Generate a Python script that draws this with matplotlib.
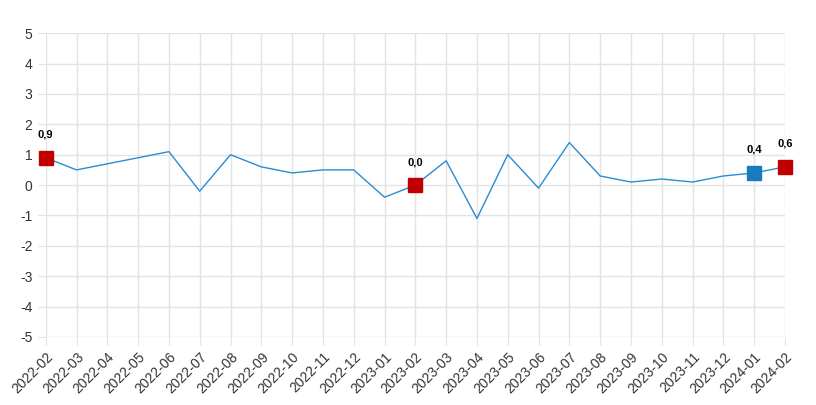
import matplotlib
matplotlib.use("Agg")
import matplotlib.pyplot as plt

months = ["2022-02", "2022-03", "2022-04", "2022-05", "2022-06", "2022-07",
          "2022-08", "2022-09", "2022-10", "2022-11", "2022-12", "2023-01",
          "2023-02", "2023-03", "2023-04", "2023-05", "2023-06", "2023-07",
          "2023-08", "2023-09", "2023-10", "2023-11", "2023-12", "2024-01",
          "2024-02"]
values = [0.9, 0.5, 0.7, 0.9, 1.1, -0.2, 1.0, 0.6, 0.4, 0.5, 0.5, -0.4,
          0.0, 0.8, -1.1, 1.0, -0.1, 1.4, 0.3, 0.1, 0.2, 0.1, 0.3, 0.4, 0.6]
red_points = ["2022-02", "2023-02", "2024-02"]
blue_points = ["2024-01"]

plt.rcParams['font.family'] = ['Liberation Sans', 'DejaVu Sans']

fig = plt.figure(figsize=(8.16, 4.05), dpi=100)
ax = fig.add_axes([0.056, 0.168, 0.906, 0.75])

x = list(range(len(months)))
ax.plot(x, values, color="#2b8bd3", linewidth=1.0, zorder=3)

for m in red_points + blue_points:
    i = months.index(m)
    c = "#c00000" if m in red_points else "#1a7abf"
    ax.plot(i, values[i], marker="s", markersize=10.5, color=c, zorder=4,
            clip_on=False)
    ax.annotate(("%.1f" % values[i]).replace(".", ","), (i, values[i]),
                xytext=(0, 13), textcoords="offset points", ha="center",
                va="bottom", fontsize=8, fontweight="bold", color="black")

ax.set_xlim(0, len(months) - 1)
ax.set_ylim(-5, 5)
ax.set_yticks(range(-5, 6))
ax.set_yticklabels([str(v) for v in range(-5, 6)])
ax.set_xticks(x)
ax.set_xticklabels(months, rotation=45, ha="right", rotation_mode="anchor")
ax.grid(True, color="#e3e3e3", linewidth=1.0)
ax.set_axisbelow(True)
for s in ax.spines.values():
    s.set_visible(False)
ax.tick_params(axis="both", colors="#e3e3e3", labelcolor="#333333",
               labelsize=10, length=6)

fig.savefig("out.png", dpi=100)
